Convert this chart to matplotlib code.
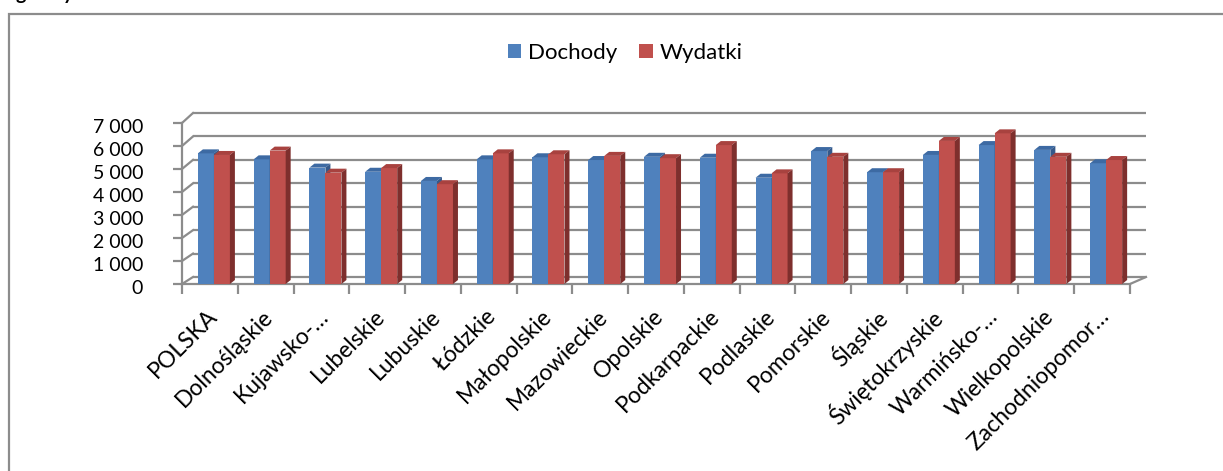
import numpy as np
import matplotlib.pyplot as plt
from matplotlib.patches import Polygon, Patch, Rectangle
from matplotlib.transforms import ScaledTranslation

# Dane: dochody i wydatki wg wojewodztw
regions = ["POLSKA", "Dolnośląskie", "Kujawsko-…", "Lubelskie", "Lubuskie",
           "Łódzkie", "Małopolskie", "Mazowieckie", "Opolskie", "Podkarpackie",
           "Podlaskie", "Pomorskie", "Śląskie", "Świętokrzyskie", "Warmińsko-…",
           "Wielkopolskie", "Zachodniopomor…"]
dochody = [5680, 5420, 5060, 4880, 4480, 5420, 5510, 5390, 5530, 5490,
           4620, 5780, 4860, 5610, 6040, 5830, 5250]
wydatki = [5610, 5800, 4840, 5040, 4340, 5680, 5640, 5570, 5470, 6040,
           4810, 5530, 4860, 6220, 6550, 5530, 5390]
yticks = [0, 1000, 2000, 3000, 4000, 5000, 6000, 7000]
ytick_labels = ["0", "1 000", "2 000", "3 000", "4 000", "5 000", "6 000", "7 000"]
series_names = ["Dochody", "Wydatki"]

plt.rcParams['font.family'] = ['Lato', 'DejaVu Sans']

W, H = 1223, 471
GRID = '#8c8c8c'
BLUE, BLUE_TOP, BLUE_SIDE = '#4F81BD', '#3D6AA3', '#35598a'
RED, RED_TOP, RED_SIDE = '#C0504D', '#A8423F', '#7E2F2D'

fig = plt.figure(figsize=(W / 100, H / 100), dpi=100)
ax = fig.add_axes([182 / W, (H - 284) / H, 948 / W, 161 / H])
ax.patch.set_visible(False)
n = len(regions)
ax.set_xlim(-0.5, n - 0.5)
ax.set_ylim(0, 7000)

# pixels per data unit (front plane)
px_x = 948 / n
px_y = 161 / 7000

# back wall gridlines + left wall diagonals
for v in yticks:
    dy = (7 + 3 * v / 7000) / px_y
    dxl = 11 / px_x
    dxr = 16 / px_x
    ax.plot([-0.5 + dxl, n - 0.5 + dxr], [v + dy, v + dy], color=GRID, lw=1.6,
            clip_on=False, zorder=1, solid_capstyle='butt')
    ax.plot([-0.5, -0.5 + dxl], [v, v + dy], color=GRID, lw=1.6,
            clip_on=False, zorder=1)

# floor right edge
ax.plot([n - 0.5, n - 0.5 + 16 / px_x], [0, 7 / px_y], color=GRID, lw=1.6,
        clip_on=False, zorder=1)

# bars with pseudo-3D faces
bw = 0.287
sd = 5 / px_x
sdy = 4 / px_y
x = np.arange(n)
z = 3
for i in range(n):
    for x0, h, cf, ct, cs in [(x[i] - 0.215, dochody[i], BLUE, BLUE_TOP, BLUE_SIDE),
                              (x[i] - 0.215 + bw, wydatki[i], RED, RED_TOP, RED_SIDE)]:
        ax.bar(x0, h, width=bw, align='edge', color=cf, zorder=z)
        x1 = x0 + bw
        ax.add_patch(Polygon([(x0, h), (x1, h), (x1 + sd, h + sdy), (x0 + sd, h + sdy)],
                             closed=True, fc=ct, ec='none', zorder=z, clip_on=False))
        ax.add_patch(Polygon([(x1, 0), (x1, h), (x1 + sd, h + sdy), (x1 + sd, sdy)],
                             closed=True, fc=cs, ec='none', zorder=z, clip_on=False))
        z += 1

# axes styling
for s in ['top', 'right']:
    ax.spines[s].set_visible(False)
ax.spines['left'].set_color(GRID)
ax.spines['left'].set_linewidth(1.6)
ax.spines['bottom'].set_color(GRID)
ax.spines['bottom'].set_linewidth(1.6)

ax.set_yticks(yticks)
ax.set_yticklabels(ytick_labels, fontsize=14)
ax.tick_params(axis='y', length=6.5, width=1.6, color=GRID, pad=21.5)
for lab in ax.get_yticklabels():
    lab.set_transform(lab.get_transform() + ScaledTranslation(0, -3 / 100, fig.dpi_scale_trans))

ax.set_xticks(x)
ax.set_xticklabels(regions, fontsize=16.5, rotation=45, ha='right', va='center',
                   rotation_mode='anchor')
ax.set_xticks(np.arange(n + 1) - 0.5, minor=True)
ax.tick_params(axis='x', which='major', length=0, pad=21)
ax.tick_params(axis='x', which='minor', length=7.5, width=1.6, color=GRID)
for lab in ax.get_xticklabels():
    lab.set_transform(lab.get_transform() + ScaledTranslation(4 / 100, 0, fig.dpi_scale_trans))

# legend
handles = [Patch(fc=BLUE, ec='none'), Patch(fc=RED, ec='none')]
fig.legend(handles, series_names, loc='center', bbox_to_anchor=(625 / W, 1 - 53 / H),
           ncol=2, frameon=False, fontsize=16, handlelength=0.6, handleheight=0.6,
           handletextpad=0.3, columnspacing=1.0)

# chart border (clipped at right and bottom)
fig.add_artist(Rectangle((9 / W, -0.1), 1.2, (H - 14) / H + 0.1, transform=fig.transFigure,
                         fill=False, ec=GRID, lw=1.6))

# heading cut off at the top edge
fig.text(16 / W, 1.0, "g", fontweight='bold', fontsize=14, va='baseline')
fig.text(63 / W, 1.0, "y", fontweight='bold', fontsize=14, va='baseline')

fig.savefig('out.png', dpi=100)
